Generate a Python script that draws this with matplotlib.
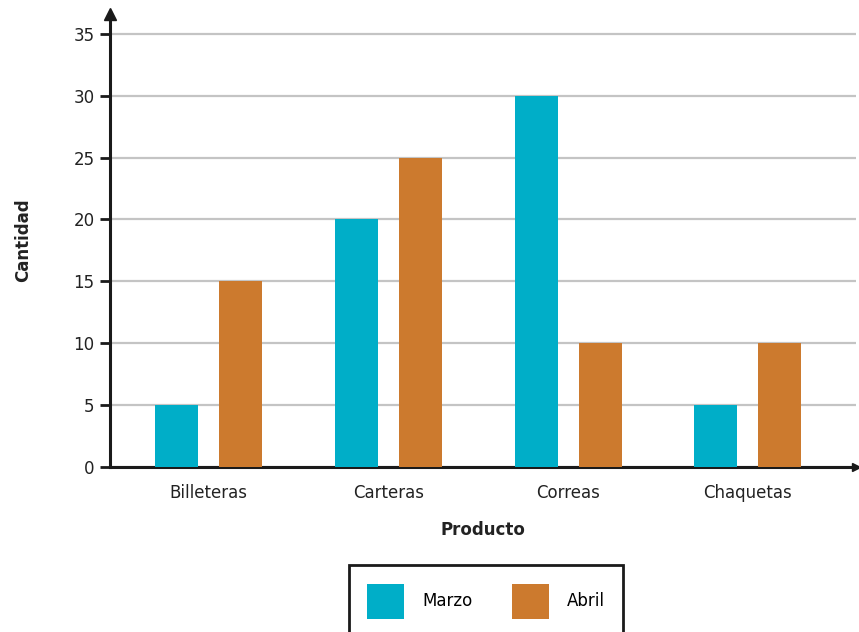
import matplotlib.pyplot as plt
import numpy as np

# Data
productos = ['Billeteras', 'Carteras', 'Correas', 'Chaquetas']
marzo = [5, 20, 30, 5]
abril = [15, 25, 10, 10]
yticks = [0, 5, 10, 15, 20, 25, 30, 35]

color_marzo = '#00AEC8'
color_abril = '#CC7A2E'

plt.rcParams['font.family'] = 'DejaVu Sans'

fig = plt.figure(figsize=(8.59, 6.32), dpi=100)
ax = fig.add_axes([110/859, 1-467/632, 1-110/859-0.004, (467-14)/632])

x = np.arange(len(productos))
w = 0.24
off = 0.178
ax.bar(x - off, marzo, w, color=color_marzo, label='Marzo', zorder=3)
ax.bar(x + off, abril, w, color=color_abril, label='Abril', zorder=3)

ax.set_xlim(-0.55, 3.6)
ax.set_ylim(0, 36.6)
ax.set_yticks(yticks)
ax.set_xticks(x)
ax.set_xticklabels(productos)

# grid
ax.yaxis.grid(True, color='#C4C4C4', linewidth=1.6, zorder=0)
ax.set_axisbelow(True)

for s in ['top', 'right']:
    ax.spines[s].set_visible(False)
for s in ['left', 'bottom']:
    ax.spines[s].set_linewidth(2.2)
    ax.spines[s].set_color('#1a1a1a')

# arrows on the axes
ax.plot(0, 1, marker='^', markersize=9, color='#1a1a1a', transform=ax.transAxes, clip_on=False)
ax.plot(1, 0, marker='>', markersize=6, color='#1a1a1a', transform=ax.transAxes, clip_on=False)

ax.tick_params(axis='y', length=7, width=2, color='#1a1a1a', labelsize=12, pad=4, labelcolor='#222222')
ax.tick_params(axis='x', length=0, labelsize=12, pad=12, labelcolor='#222222')

ax.set_xlabel('Producto', fontsize=12, fontweight='bold', labelpad=14, color='#222222')
ax.set_ylabel('Cantidad', fontsize=12, fontweight='bold', labelpad=30, color='#222222')

leg = fig.legend(loc='upper center', bbox_to_anchor=(486/859, 1-557/632), ncol=2,
                 fontsize=12, handlelength=2.2, handleheight=2.9, handletextpad=1.1,
                 columnspacing=2.4, borderpad=1.1, fancybox=False, framealpha=1,
                 edgecolor='#1a1a1a')
leg.get_frame().set_linewidth(2)

fig.savefig('out.png', dpi=100)
